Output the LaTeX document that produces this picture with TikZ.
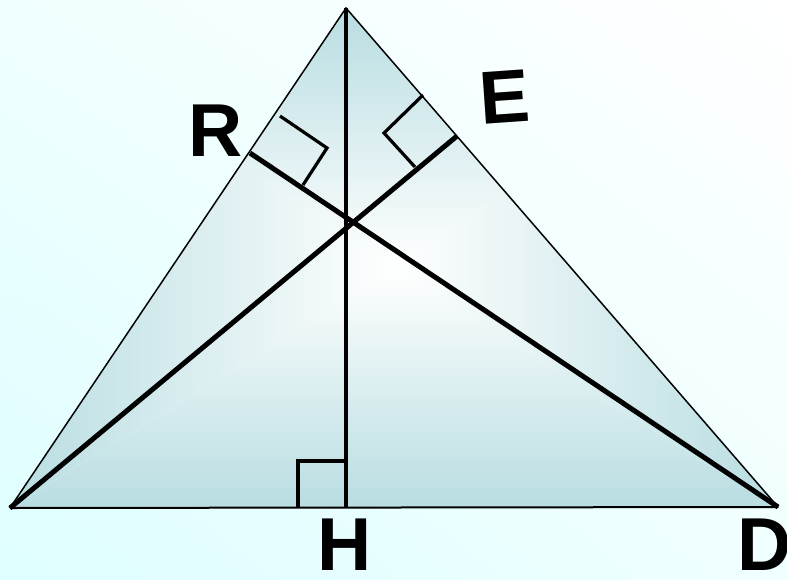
\documentclass[tikz,border=0pt]{standalone}
\usepackage{fontspec}
\setmainfont{Liberation Sans}
\usetikzlibrary{shadings}
\definecolor{bgcyan}{RGB}{222,254,255}
\definecolor{bgpale}{RGB}{240,255,255}
\definecolor{tealfill}{RGB}{184,221,225}
\pgfdeclareverticalshading{trivert}{100bp}{color(0bp)=(tealfill); color(25bp)=(tealfill); color(49bp)=(white); color(75bp)=(tealfill); color(100bp)=(tealfill)}
\pgfdeclarehorizontalshading{trihoriz}{100bp}{color(0bp)=(tealfill); color(25bp)=(tealfill); color(50bp)=(white); color(75bp)=(tealfill); color(100bp)=(tealfill)}
\tikzset{
  thinside/.style={line width=1.5pt, line cap=round},
  altit/.style={line width=3.2pt},
  thickalt/.style={line width=5pt},
  rmark/.style={line width=3.2pt},
  lab/.style={inner sep=0pt, font=\fontsize{75}{75}\selectfont\bfseries}
}
\begin{document}
\begin{tikzpicture}[x=1pt,y=-1pt]
\useasboundingbox (0,0) rectangle (787,579);
\shade[lower left=bgcyan, upper left=bgpale, upper right=white, lower right=bgpale] (0,0) rectangle (787,579);
\coordinate (A) at (10,508);
\coordinate (T) at (346,8);
\coordinate (D) at (778,507);
\coordinate (H) at (346,508);
\coordinate (R) at (250,153);
\coordinate (E) at (457,136);
\coordinate (C) at (394,268);
\begin{scope}
  \clip (A)--(T)--(D)--cycle;
  % top and bottom sectors: vertical gradient
  \begin{scope}
    \clip (C)--(9,7)--(779,7)--cycle (C)--(9,509)--(779,509)--cycle;
    \shade[shading=trivert] (10,8) rectangle (778,508);
  \end{scope}
  % left and right sectors: horizontal gradient
  \begin{scope}
    \clip (C)--(10,8)--(10,508)--cycle (C)--(778,8)--(778,508)--cycle;
    \shade[shading=trihoriz] (10,8) rectangle (778,508);
  \end{scope}
\end{scope}
\draw[thinside] (A)--(T)--(D);
\draw[line width=2pt] (A)--(D);
\draw[altit] (T)--(H);
\draw[thickalt] (A)--(E);
\draw[thickalt] (D)--(R);
\draw[rmark] (280,116)--(327,148)--(303,185);
\draw[rmark] (423,95)--(384,133)--(415,167);
\draw[rmark] (298,508)--(298,461)--(346,461);
\node[lab] (lR) at (216,131) {R};
\node[lab, rotate=4] (lE) at (505,97) {E};
\node[lab] (lH) at (345,545) {H};
\node[lab] (lD) at (765,545) {D};
\end{tikzpicture}
\end{document}
